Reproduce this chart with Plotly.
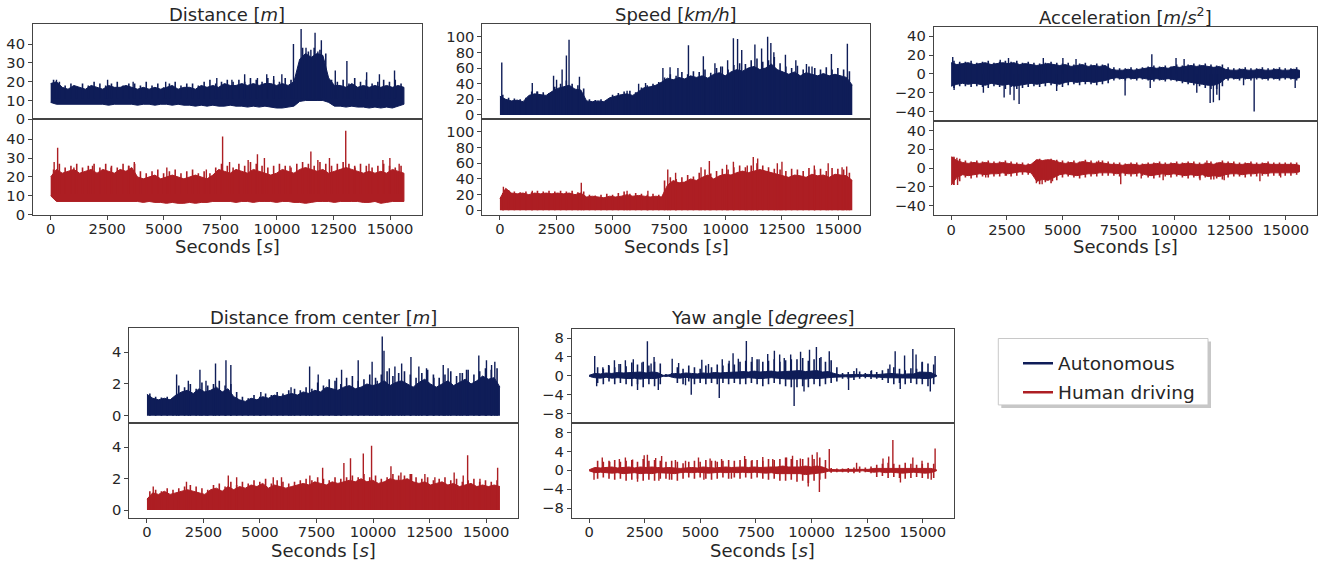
import plotly.graph_objects as go

NAVY = "#0f1d58"
RED = "#ad1e23"

# sampling grid (s) on which the band envelopes were read, and the
# mid-points where the tallest "grass" tips of each window were read
T = list(range(0, 15617, 256))
TT = list(range(128, 15617, 256))

# ---------------- Distance [m] ----------------
dist_auto_hi = [19, 20,
    17, 16, 18, 17, 16, 18, 17, 16, 18, 17, 17, 18,
    17, 16, 17, 16, 17, 16, 17, 18, 16, 17,
    17, 16, 18, 17, 18, 17, 19, 18,
    18, 19, 18, 19, 18, 19, 19, 18, 19, 18, 20,
    32, 35, 33, 35, 34,
    22, 18, 18, 17, 19, 17, 18, 17, 18, 17, 18, 17, 18, 17]
dist_auto_lo = [9, 8,
    8, 8, 8, 8, 8, 8, 8, 8, 7.5, 8, 8, 8,
    8, 7.5, 8, 8, 7.5, 8, 8, 7.5, 8, 7.5,
    7.5, 7, 7.5, 7, 7.5, 7, 7, 7.5,
    7, 7, 6.5, 7, 6.5, 7, 6.5, 6, 6, 6.5, 7,
    9.5, 10, 10, 10, 10,
    9, 7, 7, 6.5, 7, 6.5, 6.5, 6, 6.5, 6, 6.5, 6, 7, 8]
dist_auto_tip = [21, 20,
    18, 19, 17, 19, 18, 20, 19, 18, 19, 20, 18, 19,
    19, 18, 20, 18, 19, 17, 19, 20, 18, 19,
    19, 18, 20, 21, 19, 20, 21, 20,
    21, 20, 22, 21, 20, 22, 21, 20, 22, 21,
    24, 38, 36, 38, 37, 35,
    21, 20, 21, 19, 22, 20, 21, 19, 20, 21, 20, 21, 19]
dist_auto_spk_t = [257, 2516, 3646, 5084, 7343, 8011, 8575, 9140, 9551, 9859, 10219, 10732,
                   11071, 11287, 11502, 11687, 11811, 11965, 12581, 13094, 13967, 14532, 15200]
dist_auto_spk_v = [21, 21, 20, 20, 22, 21, 24, 22, 24, 23, 24, 40,
                   48, 38, 37, 46, 36, 42, 26, 31, 25, 24, 26]

dist_human_hi = [20, 24, 22, 23, 24, 22, 23, 24, 22, 24, 23, 22, 24, 23, 25,
    20, 19, 20, 21, 19, 20, 21, 20, 19, 20, 21, 20, 19, 21,
    24, 23, 22, 24, 23, 22, 24, 23, 22, 21, 22, 24, 23, 22, 24,
    25, 24, 23, 24, 22, 23, 24, 25, 24,
    23, 22, 23, 22, 23, 22, 24, 23, 22]
dist_human_lo = [10, 7, 7, 7, 7, 7, 7, 7, 7, 7, 7, 7, 7, 7, 7,
    7, 6.5, 7, 6.5, 6.5, 6, 6.5, 6, 6, 6.5, 6, 6.5, 6.5, 7,
    7, 7, 7, 6.5, 7, 7, 6.5, 7, 7, 7, 6.5, 7, 7, 6.5, 6.5,
    6, 6.5, 7, 7, 7, 6.5, 7, 7, 7,
    7, 6.5, 6.5, 7, 6, 6.5, 7, 7, 7]
dist_human_tip = [24, 27, 25, 26, 27, 25, 26, 27, 25, 27, 26, 25, 27, 26,
    27, 23, 22, 23, 24, 22, 23, 24, 22, 23, 24, 22, 23, 22,
    25, 27, 26, 25, 27, 26, 28, 27, 26, 25, 26, 27, 26, 25, 27,
    28, 27, 26, 28, 27, 26, 27, 28, 27,
    26, 27, 26, 25, 26, 27, 26, 25, 26]
dist_human_spk_t = [154, 308, 1027, 1849, 2670, 3440, 3697, 5135, 6881, 7600, 7908, 8730,
                    9140, 9448, 10578, 11502, 11811, 12324, 13043, 13454, 14070, 14686, 14994, 15405]
dist_human_spk_v = [28, 35.5, 25, 26, 25, 26, 28, 25, 24, 41.5, 28, 29,
                    32, 30, 26, 33.5, 29, 30, 44.5, 25, 27, 29, 30, 27]

# ---------------- Speed [km/h] ----------------
speed_auto_hi = [24,
    20, 18, 19, 17,
    25, 27, 26, 25,
    30, 34, 36, 38,
    33, 32,
    18, 17, 18, 17,
    22, 24, 26, 27, 25,
    30, 35, 36, 38,
    42, 47, 45, 48, 46, 50,
    48, 50, 47, 52, 54, 50,
    55, 58, 56, 60, 62, 58, 60, 65, 58, 55,
    52, 55, 50, 54, 52, 50, 53, 50, 52, 50, 48, 38]
speed_auto_tip = [26,
    22, 21, 20, 22,
    30, 30, 29, 28,
    36, 40, 44, 40,
    38, 34,
    20, 19, 20, 19,
    26, 28, 30, 31, 29,
    35, 38, 40, 42,
    48, 52, 50, 55, 52, 56,
    55, 58, 54, 60, 62, 58,
    64, 66, 65, 70, 72, 68, 70, 74, 66, 62,
    60, 63, 58, 62, 60, 58, 61, 58, 60, 58, 56]
speed_auto_spk_t = [82, 1434, 1639, 2377, 2510, 2756, 2946, 3063, 3524, 5635,
                    6147, 6454, 7223, 7540, 7889, 8355, 9016, 9528, 9784, 10091,
                    10347, 10532, 10716, 11300, 11597, 11864, 12007, 12140, 12653, 13114,
                    13585, 13831, 14691, 15398]
speed_auto_spk_v = [67, 41, 30, 50, 45, 58, 76, 96, 49, 31,
                    40, 41, 60, 61, 60, 89, 75, 66, 62, 70,
                    98, 97, 83, 90, 85, 100, 92, 80, 77, 70,
                    65, 62, 78, 91]

speed_human_hi = [15,
    28, 22, 21, 22, 20, 22, 21, 22, 21, 22, 21, 22, 20, 22,
    17, 18, 17, 16, 18, 17, 18, 20, 18, 19, 18, 17, 18, 17,
    32, 38, 35, 36, 40, 38,
    42, 45, 40, 44, 46, 45,
    48, 50, 48, 50, 52, 50, 48, 46,
    44, 42, 45, 44, 42, 46, 44, 45, 42, 46, 45, 44, 38]
speed_human_tip = [22,
    26, 24, 23, 24, 23, 25, 24, 25, 24, 25, 24, 25, 23,
    24, 20, 19, 20, 21, 20, 22, 24, 21, 22, 21, 20, 21, 20,
    38, 42, 40, 42, 45, 43,
    48, 52, 47, 50, 53, 52,
    55, 57, 55, 57, 60, 57, 55, 53,
    52, 50, 53, 52, 50, 54, 52, 53, 50, 54, 53, 52, 48]
speed_human_spk_t = [154, 1434, 3606, 5635, 6557, 7438, 7786, 8913, 9282, 10050,
                     10347, 10962, 11228, 11423, 12294, 12499, 13933, 14548, 15163, 15368]
speed_human_spk_v = [30, 25, 35, 25, 25, 52, 48, 55, 63, 58,
                     62, 57, 68, 66, 60, 62, 57, 60, 55, 56]

# ---------------- Acceleration [m/s^2] ----------------
accel_auto_hi = [12, 10,
    11, 12, 10, 11, 12, 10, 11, 12, 11, 12, 10, 11,
    10, 9, 10, 11, 10, 9, 10, 8, 9, 10, 8, 9, 8, 9,
    5, 4, 4, 5, 4, 5,
    6, 7, 6, 7, 6, 8, 7, 8,
    9, 8, 9, 8, 7, 8,
    5, 4, 4, 5, 4, 4, 5, 4, 4, 5, 4, 4, 5, 4]
accel_auto_lo = [-13, -11,
    -10, -11, -10, -11, -12, -10, -11, -12, -11, -13, -12, -11,
    -10, -11, -10, -9, -10, -11, -9, -8, -9, -8, -8, -9, -8, -7,
    -5, -4, -5, -4, -5, -4,
    -5, -6, -5, -6, -5, -6, -7, -8,
    -9, -10, -11, -12, -12, -10,
    -5, -4, -5, -4, -5, -4, -4, -5, -4, -5, -4, -4, -5, -4]
accel_auto_tip_hi = [14, 13,
    13, 14, 12, 13, 14, 12, 13, 14, 13, 14, 12, 13,
    12, 11, 12, 13, 12, 11, 12, 10, 11, 12, 10, 11, 10, 11,
    7, 6, 6, 7, 6, 7,
    8, 9, 8, 9, 8, 10, 9, 10,
    11, 10, 11, 10, 9, 10,
    7, 6, 6, 7, 6, 6, 7, 6, 6, 7, 6, 6, 7]
accel_auto_tip_lo = [-15, -13,
    -13, -14, -13, -14, -15, -13, -14, -16, -14, -16, -15, -14,
    -13, -14, -13, -12, -13, -14, -12, -11, -12, -11, -11, -12, -11, -10,
    -7, -6, -7, -6, -7, -6,
    -7, -8, -7, -8, -7, -8, -10, -11,
    -12, -13, -15, -16, -16, -13,
    -7, -6, -7, -6, -7, -6, -6, -7, -6, -7, -6, -6, -7]
accel_auto_spk_t = [72, 134, 1446, 2200, 2376, 2572, 2644, 2820, 3047, 4132,
                    4731, 5010, 5599, 7799, 8925, 8997, 10082, 10444, 11012, 11611,
                    11756, 11910, 12024, 13109, 13584, 15423]
accel_auto_spk_v = [18, -17, -20, 15, -25, 17, -22, -28, -32, 17,
                    -18, 17, 16, -23, -15, 21, 17, 16, -20, -31,
                    -30, -22, -28, -12, -40, -15]

accel_human_hi = [12, 8,
    6, 5, 6, 5, 6, 5, 5, 6, 5, 4, 4, 3, 4,
    9, 8, 9, 8,
    6, 5, 6, 5, 7, 6, 5, 6, 5,
    4, 4, 3, 4, 4, 3, 4, 4, 5, 4, 4, 5, 4, 5, 5, 4, 4, 5, 4, 6,
    5, 5, 4, 4, 5, 4, 4, 5, 4, 4, 4, 4, 4, 3]
accel_human_lo = [-18, -10,
    -7, -8, -7, -6, -7, -6, -6, -5, -6, -5, -4, -4, -5,
    -14, -12, -13, -10,
    -7, -6, -7, -8, -7, -6, -6, -5, -5,
    -5, -6, -5, -6, -6, -5, -7, -8, -7, -6, -7, -6, -7, -8, -7, -8, -7, -9, -8, -9,
    -7, -6, -6, -7, -6, -6, -5, -6, -5, -5, -5, -5, -5, -4]
accel_human_tip_hi = [12, 10,
    8, 7, 8, 7, 8, 7, 7, 8, 7, 6, 6, 5, 6,
    10, 9, 10, 9,
    8, 7, 8, 7, 9, 8, 7, 8, 7,
    6, 6, 5, 6, 6, 5, 6, 6, 7, 6, 6, 7, 6, 7, 7, 6, 6, 7, 6, 8,
    7, 7, 6, 6, 7, 6, 6, 7, 6, 6, 6, 6, 6]
accel_human_tip_lo = [-18, -14,
    -10, -11, -10, -9, -10, -9, -9, -8, -9, -8, -7, -7, -8,
    -17, -15, -16, -13,
    -10, -9, -10, -11, -10, -9, -9, -8, -8,
    -8, -9, -8, -9, -9, -8, -10, -11, -10, -9, -10, -9, -10, -11, -10, -11, -10, -12, -11, -12,
    -10, -9, -9, -10, -9, -9, -8, -9, -8, -8, -8, -8, -7]
accel_human_spk_t = [72, 103, 258, 289, 362, 1550, 2479, 3822, 3822, 4080,
                     4545, 6611, 7603, 8522, 9504, 11156, 11466, 11776, 12241, 13842, 14772]
accel_human_spk_v = [12, -18, 11, -18, -12, -10, -8, 9, -16, -17,
                     -14, 8, -17, -11, -13, -13, 8, -12, -13, -14, -10]

# ---------------- Distance from center [m] ----------------
dfc_auto_hi = [1.35,
    1.1, 1.0, 1.1, 1.0,
    1.3, 1.5, 1.6, 1.4, 1.7, 1.5, 1.6,
    1.8, 1.5, 1.7, 1.2,
    1.0, 0.9, 1.1, 1.0, 1.2, 1.1, 1.3, 1.2,
    1.3, 1.4, 1.3, 1.5, 1.4,
    1.6, 1.5, 1.8, 1.7, 1.6, 1.8, 1.9, 1.7, 1.8, 2.0, 1.9,
    2.0, 2.2, 1.9, 2.1, 2.2, 2.0, 1.8, 2.1, 2.3, 2.0,
    1.8, 2.0, 2.2, 1.9, 2.1, 2.3, 2.0, 2.2, 2.5, 2.3, 2.4, 1.8]
dfc_auto_tip = [1.4,
    1.2, 1.15, 1.2, 1.1,
    1.9, 1.8, 2.0, 1.7, 2.1, 1.9, 2.0,
    2.2, 1.9, 2.0, 1.5,
    1.2, 1.1, 1.3, 1.2, 1.4, 1.3, 1.5, 1.4,
    1.6, 1.7, 1.6, 1.8, 1.7,
    2.1, 1.9, 2.3, 2.2, 2.0, 2.4, 2.5, 2.2, 2.3, 2.6, 2.4,
    2.6, 2.8, 2.5, 2.7, 2.8, 2.6, 2.4, 2.7, 2.9, 2.6,
    2.4, 2.6, 2.8, 2.5, 2.7, 2.9, 2.6, 2.8, 3.0, 2.9, 3.0]
dfc_auto_spk_t = [1312, 1830, 2344, 2611, 3033, 3495, 3711, 5037, 6374, 7196,
                  7576, 8388, 8610, 9345, 9961, 10187, 10409, 10486, 10722, 10969,
                  11267, 11678, 12028, 12367, 12696, 13107, 13323, 13847, 14135, 14680,
                  15019, 15245, 15389]
dfc_auto_spk_v = [2.6, 2.2, 2.9, 2.2, 3.3, 3.5, 3.2, 1.5, 1.8, 3.1,
                  2.6, 2.4, 2.9, 3.5, 3.4, 2.2, 5.0, 4.1, 3.0, 3.1,
                  3.3, 3.7, 3.1, 3.0, 2.4, 3.2, 3.0, 2.7, 2.9, 3.8,
                  3.5, 3.2, 3.4]

dfc_human_hi = [0.7,
    1.1, 1.0, 1.2, 1.0, 1.1, 1.2,
    1.3, 1.2, 1.1, 1.0, 1.3, 1.4, 1.2, 1.5, 1.3,
    1.5, 1.4, 1.6, 1.5, 1.7, 1.4, 1.6, 1.5, 1.4,
    1.5, 1.6, 1.7, 1.6, 1.8, 1.7, 1.6, 1.8, 1.7,
    1.8, 1.9, 1.8, 2.0, 1.8, 1.9, 1.7, 1.8, 2.0, 1.9,
    1.9, 2.0, 1.8, 1.7, 1.8, 1.6, 1.7, 1.8, 1.6, 1.7, 1.5, 1.6, 1.7, 1.5, 1.6, 1.5, 1.6, 1.5]
dfc_human_tip = [1.2,
    1.3, 1.2, 1.4, 1.3, 1.4, 1.5,
    1.6, 1.5, 1.4, 1.3, 1.6, 1.7, 1.5, 1.8, 1.6,
    1.8, 1.7, 1.9, 1.8, 2.0, 1.7, 1.9, 1.8, 1.7,
    1.8, 1.9, 2.0, 1.9, 2.1, 2.0, 1.9, 2.1, 2.0,
    2.1, 2.2, 2.1, 2.3, 2.1, 2.2, 2.0, 2.1, 2.3, 2.2,
    2.2, 2.3, 2.1, 2.0, 2.1, 1.9, 2.0, 2.1, 1.9, 2.0, 1.8, 1.9, 2.0, 1.8, 1.9, 1.8, 1.9]
dfc_human_spk_t = [278, 1748, 3598, 3968, 5587, 5952, 7206, 7772, 8712, 9005, 9571,
                   9936, 10794, 11236, 11709, 12295, 12737, 13590, 13991, 14186, 14731, 15513]
dfc_human_spk_v = [1.5, 1.8, 2.2, 2.1, 2.1, 2.1, 2.2, 2.7, 3.0, 3.3, 3.6,
                   4.1, 2.8, 2.4, 2.3, 2.3, 2.1, 2.4, 2.2, 3.5, 2.0, 2.7]

# ---------------- Yaw angle [degrees] ----------------
yaw_auto_hi = [0.1,
    0.5, 0.4, 0.6, 0.5, 0.7, 0.6, 0.7, 0.7, 0.8, 0.6, 0.8, 0.7,
    0.1, 0.2,
    0.5, 0.4, 0.6, 0.5, 0.4,
    0.6, 0.5, 0.7, 0.6, 0.7, 0.7, 0.8,
    0.9, 0.8, 1.0, 0.8, 0.9, 1.0, 0.8, 0.9, 1.0,
    1.0, 1.1, 0.9, 1.0, 1.1, 0.8, 0.9, 0.5,
    0.2, 0.2, 0.3, 0.3, 0.2, 0.3, 0.2, 0.3,
    0.4, 0.5, 0.4, 0.3, 0.4, 0.4,
    0.8, 0.7, 0.7, 0.1]
yaw_auto_lo = [-0.1,
    -0.4, -0.5, -0.3, -0.5, -0.4, -0.5, -0.6, -0.5, -0.7, -0.5, -0.6, -0.5,
    -0.1, -0.1,
    -0.4, -0.5, -0.3, -0.5, -0.4,
    -0.5, -0.4, -0.5, -0.4, -0.5, -0.4, -0.5,
    -0.5, -0.4, -0.5, -0.6, -0.5, -0.4, -0.5, -0.6, -0.7,
    -0.7, -0.6, -0.7, -0.5, -0.6, -0.5, -0.4, -0.3,
    -0.2, -0.2, -0.3, -0.2, -0.1, -0.2, -0.2, -0.3,
    -0.4, -0.5, -0.4, -0.5, -0.4, -0.5,
    -0.5, -0.6, -0.5, -0.1]
yaw_auto_tip_hi = [0.3,
    1.8, 1.5, 2.2, 1.8, 2.5, 2.0, 2.8, 2.4, 3.0, 2.2, 3.0, 2.6,
    0.4, 0.6,
    1.8, 1.5, 2.2, 1.8, 1.5,
    2.2, 1.8, 2.4, 2.2, 2.6, 2.4, 3.0,
    3.2, 3.0, 3.5, 3.0, 3.2, 3.5, 3.0, 3.3, 3.5,
    3.5, 3.8, 3.2, 3.5, 3.8, 3.0, 3.3, 1.8,
    0.6, 0.8, 1.0, 0.9, 0.6, 1.0, 0.8, 1.2,
    1.5, 1.8, 1.5, 1.2, 1.6, 1.5,
    3.0, 2.6, 2.4]
yaw_auto_tip_lo = [-0.3,
    -1.5, -1.8, -1.2, -1.8, -1.5, -1.8, -2.2, -1.8, -2.4, -1.8, -2.2, -1.8,
    -0.2, -0.3,
    -1.5, -1.8, -1.2, -1.8, -1.5,
    -1.8, -1.5, -1.8, -1.5, -1.8, -1.5, -1.8,
    -1.8, -1.5, -1.8, -2.2, -1.8, -1.5, -1.8, -2.2, -2.4,
    -2.4, -2.2, -2.4, -1.8, -2.2, -1.8, -1.5, -1.2,
    -0.6, -0.7, -0.9, -0.6, -0.5, -0.7, -0.6, -0.9,
    -1.5, -1.8, -1.5, -1.8, -1.5, -1.8,
    -1.8, -2.2, -1.8]
yaw_auto_spk_t = [253, 341, 619, 877, 1140, 1342, 1631, 1987, 2178, 2374,
                  2621, 2786, 2921, 3111, 3736, 4025, 4334, 4592, 5067, 5366,
                  5851, 5986, 6295, 6471, 6708, 7069, 7327, 7637, 8029, 8328,
                  8566, 8772, 9061, 9216, 9505, 9660, 9907, 10217, 10423, 10795,
                  11662, 12023, 12694, 13519, 13757, 13984, 14180, 14551, 14696, 14964,
                  15336, 15552]
yaw_auto_spk_v = [4.2, -2.2, 1.8, 2.3, 3.3, 2.5, 3.3, 3.5, -3.0, 2.8,
                  7.3, 2.6, 4.0, -3.0, 3.6, 2.7, -2.0, -4.0, 3.4, 2.5,
                  -4.7, 3.5, 3.2, 4.8, 3.6, 7.4, 4.0, 3.5, 4.6, 5.3,
                  4.5, 3.8, 4.5, -6.4, 5.1, -3.3, 5.5, 6.1, 4.0, 5.2,
                  -3.0, 1.6, 1.2, 2.4, 5.2, -2.8, 4.3, 5.7, 4.5, 2.9,
                  -3.3, 4.2]

yaw_human_hi = [0.1,
    0.6, 0.5, 0.6, 0.7, 0.5, 0.6, 0.7, 0.5, 0.7, 0.6, 0.7, 0.6,
    0.5, 0.6, 0.5, 0.4, 0.5, 0.6, 0.5, 0.7, 0.6, 0.5, 0.6, 0.7, 0.6,
    0.7, 0.7, 0.6, 0.7, 0.6, 0.7, 0.7, 0.7, 0.9, 0.7, 0.7, 0.7, 0.9, 0.7, 0.9, 0.7,
    0.2, 0.1, 0.1, 0.2, 0.2, 0.2, 0.2, 0.2,
    0.4, 0.4, 0.5, 0.4, 0.4, 0.5, 0.4, 0.4, 0.4, 0.5, 0.4, 0.1]
yaw_human_lo = [-0.1,
    -0.5, -0.4, -0.5, -0.6, -0.5, -0.7, -0.6, -0.5, -0.7, -0.6, -0.7, -0.5,
    -0.5, -0.6, -0.7, -0.5, -0.4, -0.5, -0.4, -0.5, -0.6, -0.5, -0.4, -0.5, -0.4,
    -0.5, -0.4, -0.5, -0.4, -0.5, -0.6, -0.5, -0.7, -0.7, -0.6, -0.7, -0.7, -0.9, -0.7, -0.6, -0.5,
    -0.2, -0.1, -0.1, -0.2, -0.2, -0.2, -0.1, -0.2,
    -0.4, -0.3, -0.5, -0.4, -0.5, -0.6, -0.5, -0.4, -0.5, -0.6, -0.5, -0.1]
yaw_human_tip_hi = [0.3,
    2.0, 1.8, 2.0, 2.2, 1.8, 2.0, 2.2, 1.8, 2.4, 2.0, 2.2, 2.0,
    1.8, 2.0, 1.8, 1.5, 1.8, 2.0, 1.8, 2.2, 2.0, 1.8, 2.0, 2.2, 2.0,
    2.2, 2.4, 2.0, 2.2, 2.0, 2.4, 2.2, 2.4, 2.7, 2.4, 2.2, 2.4, 2.7, 2.4, 2.7, 2.2,
    0.5, 0.4, 0.4, 0.5, 0.6, 0.8, 0.6, 0.8,
    1.2, 1.4, 1.6, 1.4, 1.2, 1.6, 1.4, 1.2, 1.4, 1.6, 1.4]
yaw_human_tip_lo = [-0.3,
    -1.8, -1.5, -1.8, -2.0, -1.8, -2.2, -2.0, -1.8, -2.2, -2.0, -2.2, -1.8,
    -1.8, -2.0, -2.2, -1.8, -1.5, -1.8, -1.5, -1.8, -2.0, -1.8, -1.5, -1.8, -1.5,
    -1.8, -1.5, -1.8, -1.5, -1.8, -2.0, -1.8, -2.2, -2.2, -2.0, -2.4, -2.2, -2.7, -2.2, -2.0, -1.8,
    -0.5, -0.4, -0.4, -0.5, -0.6, -0.5, -0.4, -0.6,
    -1.4, -1.2, -1.6, -1.4, -1.6, -1.8, -1.6, -1.4, -1.6, -1.8, -1.6]
yaw_human_spk_t = [222, 593, 929, 1362, 1631, 1956, 2178, 2477, 2621, 2993,
                   3137, 3261, 3612, 3880, 4334, 4917, 5160, 5439, 5676, 5955,
                   6398, 6992, 7327, 7807, 8256, 8875, 9144, 9494, 9850, 10031,
                   10248, 10351, 10795, 12023, 13210, 13468, 13653, 13994, 14551, 14964,
                   15377, 15552]
yaw_human_spk_v = [-2.0, 2.7, 1.8, 2.4, 2.7, 2.3, -2.4, 3.2, 3.3, 2.6,
                   -2.2, 3.0, -2.0, 2.2, 2.0, 2.7, -2.0, 2.5, 2.0, 2.4,
                   -1.8, 3.0, 2.2, 2.8, 2.4, 2.7, 3.1, 2.5, -3.4, 3.3,
                   3.8, -4.6, 4.5, 1.6, 2.5, 2.9, 6.4, -2.6, 2.7, 2.0,
                   -2.0, 4.6]

titles = ["Distance [<i>m</i>]", "Speed [<i>km/h</i>]",
          "Acceleration [<i>m</i>/<i>s</i><sup>2</sup>]",
          "Distance from center [<i>m</i>]", "Yaw angle [<i>degrees</i>]"]
xlabel = "Seconds [<i>s</i>]"
x_ticks = [0, 2500, 5000, 7500, 10000, 12500, 15000]
y_ticks = [[0, 10, 20, 30, 40], [0, 20, 40, 60, 80, 100], [-40, -20, 0, 20, 40],
           [0, 2, 4], [-8, -4, 0, 4, 8]]
legend_names = ["Autonomous", "Human driving"]

# per panel: (band_hi, band_lo, tip_hi, tip_lo, spike_t, spike_v, base) for top / bottom
series = [
    ((dist_auto_hi, dist_auto_lo, dist_auto_tip, None, dist_auto_spk_t, dist_auto_spk_v, 11),
     (dist_human_hi, dist_human_lo, dist_human_tip, None, dist_human_spk_t, dist_human_spk_v, 11)),
    ((speed_auto_hi, None, speed_auto_tip, None, speed_auto_spk_t, speed_auto_spk_v, 0),
     (speed_human_hi, None, speed_human_tip, None, speed_human_spk_t, speed_human_spk_v, 0)),
    ((accel_auto_hi, accel_auto_lo, accel_auto_tip_hi, accel_auto_tip_lo,
      accel_auto_spk_t, accel_auto_spk_v, 0),
     (accel_human_hi, accel_human_lo, accel_human_tip_hi, accel_human_tip_lo,
      accel_human_spk_t, accel_human_spk_v, 0)),
    ((dfc_auto_hi, None, dfc_auto_tip, None, dfc_auto_spk_t, dfc_auto_spk_v, 0),
     (dfc_human_hi, None, dfc_human_tip, None, dfc_human_spk_t, dfc_human_spk_v, 0)),
    ((yaw_auto_hi, yaw_auto_lo, yaw_auto_tip_hi, yaw_auto_tip_lo,
      yaw_auto_spk_t, yaw_auto_spk_v, 0),
     (yaw_human_hi, yaw_human_lo, yaw_human_tip_hi, yaw_human_tip_lo,
      yaw_human_spk_t, yaw_human_spk_v, 0)),
]

# ---------------- layout geometry (pixels) ----------------
W, H = 1327, 571
geom = [
    dict(x=(33, 421.7), top=(24.5, 121), bot=(121, 217.7), yr=[0, 50.6], ty=14.5, ly=250),
    dict(x=(482.3, 870), top=(24.5, 121), bot=(121, 217.7), yr=[-5.5, 116], ty=14.5, ly=250),
    dict(x=(933.7, 1317), top=(27.3, 122.7), bot=(122.7, 218.3), yr=[-50, 50], ty=16.5, ly=250),
    dict(x=(129.3, 517.7), top=(332.7, 429.3), bot=(429.3, 525), yr=[-0.48, 5.53], ty=322, ly=558),
    dict(x=(571.7, 954), top=(333.3, 429), bot=(429, 525), yr=[-10, 10], ty=322, ly=558),
]
XR = [-781, 16401]
FONT = "DejaVu Sans"
TXT = "#262626"
AXC = "#444444"
TICKF = 14.7

fig = go.Figure()
layout = dict(width=W, height=H, margin=dict(l=0, r=0, t=0, b=0),
              paper_bgcolor="white", plot_bgcolor="white",
              font=dict(family=FONT, color=TXT, size=TICKF))
annotations = []


def px2x(p):
    return p / W


def px2y(p):
    return 1 - p / H


k = 0
for pi, (g, pair) in enumerate(zip(geom, series)):
    for half, (hi, lo, thi, tlo, st, sv, base) in enumerate(pair):
        k += 1
        color = NAVY if half == 0 else RED
        xa = "x" if k == 1 else f"x{k}"
        ya = "y" if k == 1 else f"y{k}"
        common = dict(xaxis=xa, yaxis=ya, showlegend=False, hoverinfo="skip")
        # dense band
        if lo is None:
            fig.add_trace(go.Scatter(x=T, y=hi, mode="lines", line=dict(color=color, width=1),
                                     fill="tozeroy", fillcolor=color, **common))
        else:
            fig.add_trace(go.Scatter(x=T + T[::-1], y=hi + lo[::-1], mode="lines",
                                     line=dict(color=color, width=1), fill="toself",
                                     fillcolor=color, **common))
        # grass tips of each window
        xs, ys = [], []
        for j, t in enumerate(TT):
            xs += [t, t, None]
            ys += [tlo[j] if tlo is not None else base, thi[j], None]
        fig.add_trace(go.Scatter(x=xs, y=ys, mode="lines", line=dict(color=color, width=1.6),
                                 **common))
        # isolated tall spikes
        xs, ys = [], []
        for t, v in zip(st, sv):
            xs += [t, t, None]
            ys += [base, v, None]
        fig.add_trace(go.Scatter(x=xs, y=ys, mode="lines", line=dict(color=color, width=1.4),
                                 **common))
        yd = g["top"] if half == 0 else g["bot"]
        is_bottom = half == 1
        layout["xaxis" if k == 1 else f"xaxis{k}"] = dict(
            domain=[px2x(g["x"][0]), px2x(g["x"][1])], range=XR, anchor=ya,
            showline=True, mirror=True, linecolor=AXC, linewidth=1,
            showgrid=False, zeroline=False,
            tickvals=x_ticks, tickformat="d", showticklabels=is_bottom,
            ticks="outside" if is_bottom else "", ticklen=4, tickcolor=AXC,
            ticklabelstandoff=-3,
            tickfont=dict(size=TICKF, color=TXT, family=FONT))
        layout["yaxis" if k == 1 else f"yaxis{k}"] = dict(
            domain=[px2y(yd[1]), px2y(yd[0])], range=g["yr"], anchor=xa,
            showline=True, mirror=True, linecolor=AXC, linewidth=1,
            showgrid=False, zeroline=False, tickvals=y_ticks[pi],
            ticks="outside", ticklen=4, tickcolor=AXC,
            tickfont=dict(size=TICKF, color=TXT, family=FONT))
    cx = px2x((g["x"][0] + g["x"][1]) / 2)
    annotations.append(dict(text=titles[pi], x=cx, y=px2y(g["ty"]), xref="paper", yref="paper",
                            xanchor="center", yanchor="middle", showarrow=False,
                            font=dict(size=18, color=TXT, family=FONT)))
    annotations.append(dict(text=xlabel, x=cx, y=px2y(g["ly"]), xref="paper", yref="paper",
                            xanchor="center", yanchor="middle", showarrow=False,
                            font=dict(size=18, color=TXT, family=FONT)))

# legend entries
for name, color in zip(legend_names, [NAVY, RED]):
    fig.add_trace(go.Scatter(x=[None], y=[None], mode="lines", name=name, legendgroup=name,
                             line=dict(color=color, width=2.5), showlegend=True))

# legend frame with soft shadow
bx0, by0, bx1, by1 = 998.3, 343.3, 1208, 410.7
shapes = [
    dict(type="rect", xref="paper", yref="paper", x0=px2x(bx0 + 3), x1=px2x(bx1 + 3),
         y0=px2y(by1 + 3), y1=px2y(by0 + 3), line=dict(width=0),
         fillcolor="rgba(0,0,0,0.22)", layer="above"),
    dict(type="rect", xref="paper", yref="paper", x0=px2x(bx0), x1=px2x(bx1),
         y0=px2y(by1), y1=px2y(by0), line=dict(color="#c8c8c8", width=1),
         fillcolor="white", layer="above"),
]
layout["shapes"] = shapes
layout["annotations"] = annotations
layout["legend"] = dict(x=px2x(1018), y=px2y(349.5), xanchor="left", yanchor="top",
                        bgcolor="rgba(0,0,0,0)", borderwidth=0,
                        font=dict(size=18.5, color=TXT, family=FONT),
                        tracegroupgap=2)
fig.update_layout(**layout)
fig.write_html("out.html", config={"displayModeBar": False},
               post_script="document.body.style.margin='0px';")
